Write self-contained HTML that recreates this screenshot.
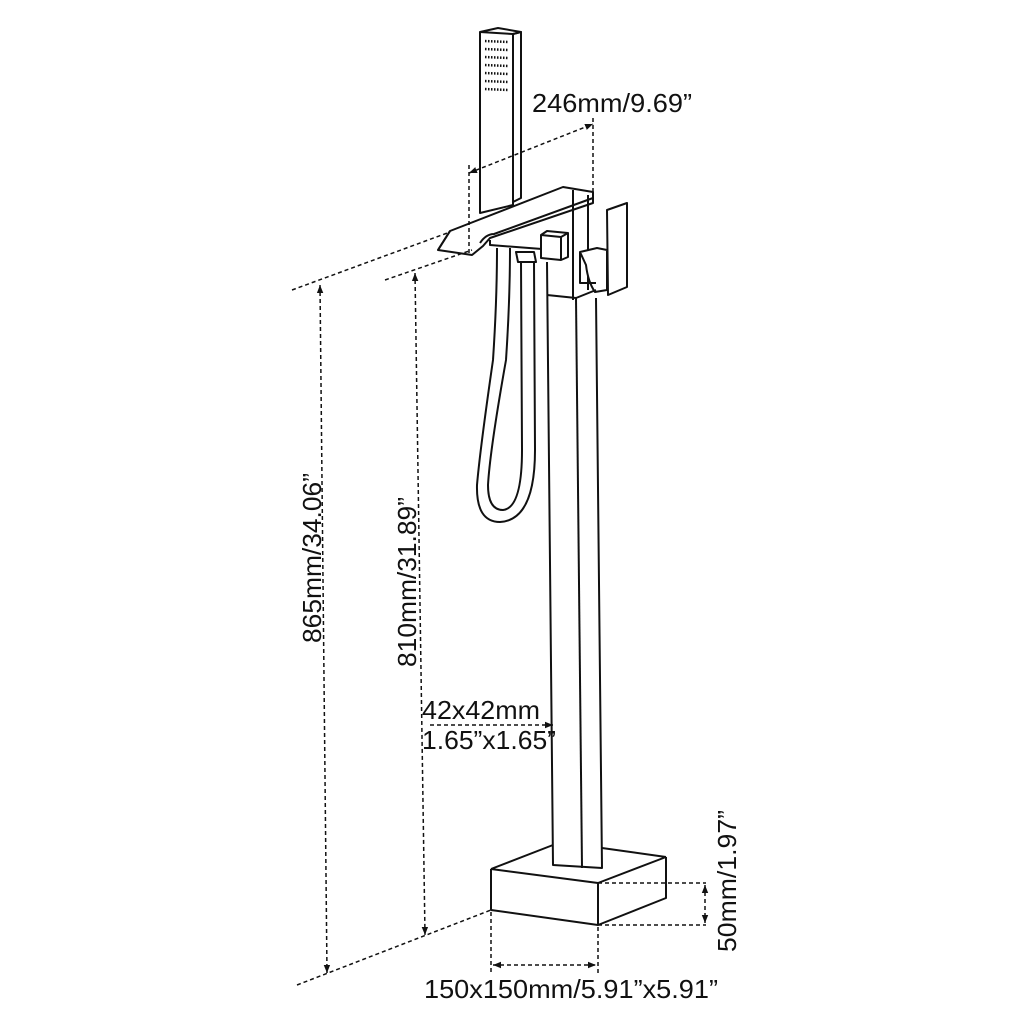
<!DOCTYPE html>
<html><head><style>
html,body{margin:0;padding:0;background:#fff;}
svg{display:block;}
text{font-family:"Liberation Sans",Arial,sans-serif;fill:#111;}
</style></head><body>
<svg width="1024" height="1024" viewBox="0 0 1024 1024" xmlns="http://www.w3.org/2000/svg">
<defs>
<marker id="ar" viewBox="0 0 10 10" refX="10" refY="5" markerWidth="8" markerHeight="8" orient="auto-start-reverse" markerUnits="userSpaceOnUse"><path d="M0,1 L10,5 L0,9 z" fill="#111"/></marker>
</defs>
<g fill="none" stroke="#111" stroke-width="2" stroke-linejoin="round">
<!-- hand shower -->
<path d="M480,32 L498,28 L521,32 L513,34 L480,32 Z" fill="#fff"/>
<path d="M480,32 L480,213 L513,205 L513,34"/>
<path d="M513,34 L521,32 L521,198 L513,202"/>
<!-- spout -->
<path d="M450,231 L563,187 L593,192 L593,203 L490,238 L483,246 L472,255 L438,250 Z" fill="#fff"/>
<path d="M450,231 L438,250"/>
<path d="M480,243 Q486,234 494,234 L593,198"/>
<!-- body under spout -->
<path d="M490,240 L490,245 L555,250"/>
<path d="M573,190 L573,300 M588,195 L588,290"/>
<!-- cube -->
<path d="M541,235 L547,231 L568,233 L568,257 L561,260 L541,258 Z" fill="#fff"/>
<path d="M541,235 L561,237 L561,260 M561,237 L568,233"/>
<!-- handle -->
<path d="M607,210 L627,203 L627,287 L608,295 Z" fill="#fff"/>
<path d="M580,252 L597,248 L607,250 L607,290 L595,292 Q588,282 586,265 Z" fill="#fff"/>
<path d="M580,252 L580,283 L596,283"/>
<!-- hose connector -->
<path d="M516,252 L534,252 L536,262 L518,262 Z" fill="#fff"/>
<!-- hose -->
<path d="M497,248 Q497,300 493,360 Q480,450 477,485 Q476,522 500,522 Q535,520 535,450 L534,262"/>
<path d="M510,248 Q510,300 506,360 Q490,450 488,485 Q488,510 503,510 Q522,508 522,450 L521,262"/>
<!-- pipe -->
<path d="M547,262 L553,865 L602,868 L596,298"/>
<path d="M576,298 L582,868"/>
<path d="M547,295 L576,298 L596,290"/>
<!-- base -->
<path d="M491,869 L553,845"/>
<path d="M602,848 L666,857"/>
<path d="M491,869 L598,883 L666,857"/>
<path d="M491,869 L491,910 L598,925 L666,898 L666,857 M598,883 L598,925"/>
</g>
<!-- dashed dims -->
<g fill="none" stroke="#111" stroke-width="1.5" stroke-dasharray="4,3">
<path d="M469,165 L469,255"/>
<path d="M593,118 L593,192"/>
<path d="M292,290 L450,232"/>
<path d="M385,280 L472,250"/>
<path d="M297,985 L491,910"/>
<path d="M320,285 L327,973" marker-start="url(#ar)" marker-end="url(#ar)"/>
<path d="M415,273 L425,935" marker-start="url(#ar)" marker-end="url(#ar)"/>
<path d="M469,173 L593,124" marker-start="url(#ar)" marker-end="url(#ar)"/>
<path d="M430,725 L553,725" marker-end="url(#ar)"/>
<path d="M491,912 L491,975 M598,927 L598,975"/>
<path d="M493,965 L596,965" marker-start="url(#ar)" marker-end="url(#ar)"/>
<path d="M598,883 L706,883 M598,925 L706,925"/>
<path d="M705,885 L705,923" marker-start="url(#ar)" marker-end="url(#ar)"/>
</g>
<text x="532" y="112" font-size="26" textLength="160" lengthAdjust="spacingAndGlyphs">246mm/9.69”</text>
<text transform="translate(321,558) rotate(-90)" font-size="26" text-anchor="middle" textLength="170" lengthAdjust="spacingAndGlyphs">865mm/34.06”</text>
<text transform="translate(416,582) rotate(-90)" font-size="26" text-anchor="middle" textLength="170" lengthAdjust="spacingAndGlyphs">810mm/31.89”</text>
<text x="422" y="719" font-size="26" textLength="118" lengthAdjust="spacingAndGlyphs">42x42mm</text>
<text x="422" y="749" font-size="26" textLength="134" lengthAdjust="spacingAndGlyphs">1.65”x1.65”</text>
<text transform="translate(736,881) rotate(-90)" font-size="26" text-anchor="middle" textLength="142" lengthAdjust="spacingAndGlyphs">50mm/1.97”</text>
<text x="424" y="998" font-size="26" textLength="294" lengthAdjust="spacingAndGlyphs">150x150mm/5.91”x5.91”</text>
<!-- shower dots -->
<g stroke="#111" stroke-width="2.5" stroke-dasharray="1.5,1.5">
<path d="M485,41 L508,42 M485,49 L508,50 M485,57 L508,58 M485,65 L508,66 M485,73 L508,74 M485,81 L508,82 M485,89 L508,90"/>
</g>
</svg>
</body></html>
